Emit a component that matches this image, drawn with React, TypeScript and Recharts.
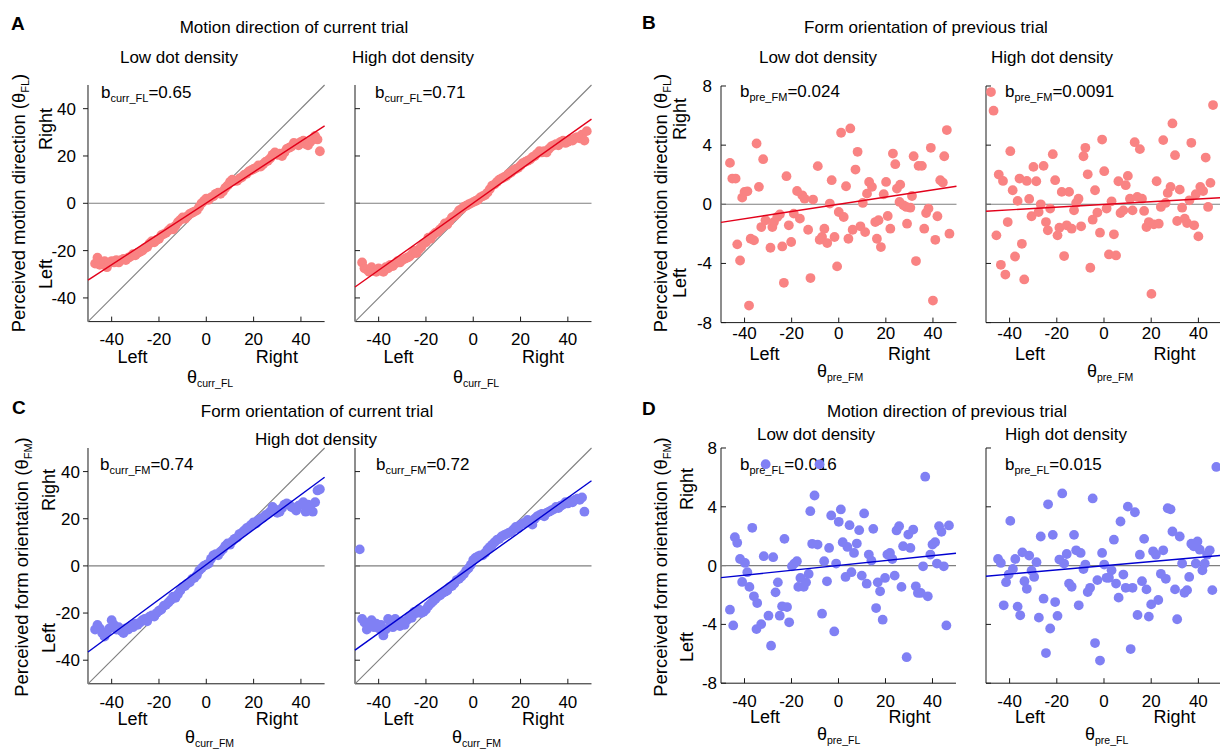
import React from 'react';
import { ScatterChart, Scatter, XAxis, YAxis } from 'recharts';

const FONT = '"Liberation Sans", Arial, Helvetica, sans-serif';
const RED_DOT = '#F98383';
const RED_LINE = '#E2001A';
const BLUE_DOT = '#8080F4';
const BLUE_LINE = '#0000D0';
const GRAY = '#7F7F7F';
const AXIS = '#1A1A1A';

// ---------- axes ----------
const xTicks = [-40, -20, 0, 20, 40];
const xRange = [-50, 50];
const bigTicks = [-40, -20, 0, 20, 40];
const bigRange = [-50, 50];
const smallTicks = [-8, -4, 0, 4, 8];
const smallRange = [-8, 8];

// ---------- current-trial bins ----------
const binsCurr = [-47, -46, -45, -44, -43, -42, -41, -40, -39, -38, -37, -36, -35, -34, -33, -32, -31, -30, -29, -28, -27, -26, -25, -24, -23, -22, -21, -20, -19, -18, -17, -16, -15, -14, -13, -12, -11, -10, -9, -8, -7, -6, -5, -4, -3, -2, -1, 0, 1, 2, 3, 4, 5, 6, 7, 8, 9, 10, 11, 12, 13, 14, 15, 16, 17, 18, 19, 20, 21, 22, 23, 24, 25, 26, 27, 28, 29, 30, 31, 32, 33, 34, 35, 36, 37, 38, 39, 40, 41, 42, 43, 44, 45, 46, 47, 48];
const binsCurrFMHigh = [-48, -47, -46, -45, -44, -43, -42, -41, -40, -39, -38, -37, -36, -35, -34, -33, -32, -31, -30, -29, -28, -27, -26, -25, -24, -23, -22, -21, -20, -19, -18, -17, -16, -15, -14, -13, -12, -11, -10, -9, -8, -7, -6, -5, -4, -3, -2, -1, 0, 1, 2, 3, 4, 5, 6, 7, 8, 9, 10, 11, 12, 13, 14, 15, 16, 17, 18, 19, 20, 21, 22, 23, 24, 25, 26, 27, 28, 29, 30, 31, 32, 33, 34, 35, 36, 37, 38, 39, 40, 41, 42, 43, 44, 45, 46, 47];

const currFLLow = [-25.5, -23, -26, -25, -24.5, -27, -25, -24.5, -25, -24, -25, -24, -23.5, -24, -23, -22.5, -21.5, -22, -21, -20.5, -20, -19, -18.5, -17, -16, -16.5, -15.5, -15, -13.5, -13, -12.5, -11.5, -10.5, -11, -9.5, -8, -7, -6, -6.5, -5.5, -4.5, -4, -3.5, -3, -1.5, 0, 1, 2, 1.5, 2.5, 3, 4, 4.5, 4, 5, 6.5, 7.5, 9, 10, 9.5, 9.5, 10.5, 11, 12, 12.5, 13.5, 14, 14.5, 15, 16, 15.5, 16.5, 17.5, 18, 19, 20.5, 21.5, 20.5, 21, 20, 21.5, 23, 23.5, 24, 25.5, 25, 24.5, 26, 26.5, 25, 24.5, 26, 27, 28.5, 27, 22];
const currFLHigh = [-25, -27.5, -28, -29, -27, -28.5, -29, -27.5, -28, -29, -27, -27.5, -26, -26.5, -25.5, -24.5, -25, -24, -23.5, -23, -22.5, -21.5, -20, -21, -19.5, -18.5, -17, -16.5, -14.5, -15, -13.5, -12.5, -12, -11, -10, -8.5, -9, -7.5, -6, -5.5, -4.5, -3, -2.5, -1.5, -1, -0.5, 0, 0.5, 1, 1.5, 2.5, 3, 3.5, 4.5, 6, 7.5, 8, 9, 10, 10.5, 11, 11.5, 12.5, 13, 14, 14.5, 15, 16, 17, 17.5, 18, 18.5, 19.5, 20, 21, 22, 21.5, 22, 21.5, 23, 24, 24.5, 25, 24.5, 26, 26.5, 25.5, 26, 27, 26.5, 27.5, 28, 27.5, 29, 26.5, 30.5];
const currFMLow = [-27, -25, -26.5, -28.5, -30, -28, -26.5, -23, -25, -27, -26, -27.5, -28.5, -26.5, -27, -25.5, -26, -24.5, -25, -24, -23, -22.5, -23.5, -21.5, -21, -21.5, -20, -19, -18.5, -17, -16.5, -15.5, -14.5, -13, -13.5, -12, -10.5, -9, -8.5, -7.5, -7, -5.5, -5, -4, -2, -1, 0, 0.5, 1, 3, 4.5, 5, 4.5, 6, 7, 8.5, 9.5, 9, 10.5, 11.5, 12, 13.5, 14, 15, 16, 16.5, 17.5, 18.5, 18, 19.5, 20, 20.5, 21.5, 22, 23, 25, 24, 22.5, 23, 24.5, 26, 26.5, 26, 25, 24.5, 23.5, 25.5, 26, 27, 23, 26, 25.5, 23, 27, 32, 32.5];
const currFMHigh = [7, -22.5, -24, -27, -25.5, -23, -26, -24.5, -26.5, -25, -29.5, -27, -22.5, -24, -26, -22.5, -24.5, -25.5, -23.5, -25, -23, -21.5, -22, -19.5, -20, -18.5, -20, -19.5, -18.5, -17, -16, -15, -14, -13, -12.5, -11.5, -11, -10.5, -9, -8.5, -7.5, -6, -5.5, -4.5, -3.5, -2, -1, 0.5, 2.5, 3.5, 4, 4.5, 4.5, 5.5, 7, 8, 9, 10, 11, 11.5, 12.5, 13, 13.5, 14, 14.5, 15.5, 16.5, 16, 17.5, 18, 18.5, 19.5, 19, 17.5, 20, 21, 21.5, 22, 21, 22.5, 23, 23.5, 24, 25, 24.5, 25.5, 26, 27, 26.5, 27.5, 27, 28, 28.5, 28, 29, 23];

// ---------- previous-trial points [x, y] ----------
const prevFMLow: number[][] = [
  [-46.2, 2.8], [-45.2, 1.74], [-43.8, 1.74], [-43.1, -2.71], [-41.9, -3.8], [-41, 0.45], [-40, 0.84], [-38.8, 0.88], [-38.1, -6.85], [-37.4, -2.33],
  [-36, -2.44], [-34.9, 4.11], [-33.9, 1.18], [-32.9, -1.54], [-32.1, 3.05], [-31.1, -1.08], [-29, -2.94], [-28.2, -1.54], [-27.5, -1.2], [-26.1, -0.86],
  [-25, -0.68], [-24, -2.85], [-23.3, -5.31], [-22.2, 1.9], [-21.2, -1.42], [-20.2, -2.55], [-19.1, -0.63], [-17.7, 0.9], [-16.5, -0.97], [-15.5, 0.61],
  [-14.5, 0.38], [-13, -1.72], [-12, -4.99], [-10.9, 0.32], [-8.9, 2.58], [-8.1, -2.4], [-7.1, -2.21], [-6.1, -1.65], [-4.9, -2.62], [-3.8, 0.05],
  [-3, 1.63], [-1.8, -2.21], [-0.7, -4.2], [0, -0.52], [1, 4.84], [2.1, -0.86], [3.1, 1.22], [4.1, -2.33], [4.9, 5.13], [5.9, -1.72],
  [7.1, 2.35], [8, 3.55], [9.2, -1.49], [10.2, 0.09], [11.2, -1.88], [12, 0.72], [12.9, 1.51], [14.1, 1.18], [15.5, -1.2], [16.2, -2.33],
  [16.9, -1.08], [17.9, -2.89], [19.1, 0.68], [20.1, 1.51], [20.8, -0.79], [21.9, -1.65], [23, 3.43], [24, 2.71], [24.7, 1.06], [26.1, 1.33],
  [25.8, 0.16], [27.5, -0.07], [28.7, -0.18], [29, -1.31], [30.4, -0.23], [31.1, 0.56], [31.8, 3.25], [32.8, -3.84], [33.9, 2.6], [35.3, 2.6],
  [36.3, -1.65], [37.1, -0.59], [38.1, -0.29], [39.1, 3.82], [40, -6.51], [41, -2.4], [41.9, -0.81], [43.1, 1.63], [44.2, 1.47], [44.8, 3.25],
  [45.9, 5.02], [47, -1.99],
];
const prevFMHigh: number[][] = [
  [-47.9, 7.59], [-46.8, 6.33], [-45.6, -2.1], [-44.6, 2.01], [-43.7, -4.09], [-42.8, 1.58], [-41.8, -4.75], [-40.8, -1.2], [-39.7, 3.59], [-38.7, 0.95],
  [-37.7, -3.53], [-36.6, 0.23], [-35.8, 1.74], [-34.8, -2.67], [-33.8, -5.08], [-32.7, 1.58], [-31.7, 0.36], [-30.7, -0.81], [-29.9, 2.53], [-28.7, 1.56],
  [-27.7, -0.52], [-26.8, 0], [-25.6, 2.6], [-24.6, -1.2], [-23.8, -1.76], [-22.8, -0.29], [-21.7, 3.39], [-20.7, 1.63], [-19.7, -2.1], [-18.9, -1.58],
  [-17.9, 0.84], [-16.9, -3.5], [-15.8, -1.42], [-14.8, 0.84], [-13.7, -1.65], [-12.7, -0.41], [-11.8, 0.09], [-10.8, 0.38], [-9.7, -1.49], [-8.7, 3.25],
  [-7.9, 3.82], [-6.9, 2.03], [-5.8, -4.29], [-4.8, -1.04], [-3.8, 0.95], [-2.8, -0.56], [-1.7, -1.92], [-0.8, 4.38], [0.1, 2.24], [1.1, -0.29],
  [2.1, -3.39], [3.2, 0.2], [4.2, -2.03], [5.1, -3.46], [6.1, 1.56], [7, -0.59], [8.2, -0.41], [9.2, 1.29], [10.1, 1.92], [11, 0.38],
  [12.1, -0.41], [13, 4.2], [14.1, 0.5], [15.2, 3.73], [16.1, 0.38], [17, -0.45], [18, -1.54], [19, -1.2], [20.1, -6.06], [21.1, -1.36],
  [22.3, 1.56], [23.2, -1.31], [24.1, -0.18], [25.1, 4.34], [26.1, 0.09], [27, 0.77], [28.2, 1.18], [29, 5.47], [30.1, 3.32], [31, -1.13],
  [32.1, 0.99], [33.1, -0.23], [34.2, -0.97], [35.2, -1.27], [36.2, 0.27], [37, 4.16], [38.2, -1.42], [38.9, 0.68], [40, -2.17], [40.8, 1.18],
  [42, 0.9], [43.1, 3.16], [44.1, -0.18], [45.1, 1.45], [46.2, 6.71],
];
const prevFLLow: number[][] = [
  [-46.2, -3.0], [-44.8, -4.07], [-44.1, 1.93], [-43.1, 1.55], [-41.9, 0.45], [-41, -1.11], [-39.8, 0.18], [-38.8, -0.45], [-37.9, -1.45], [-36.7, 2.57],
  [-36, -2.09], [-34.6, -2.55], [-34.9, -4.32], [-32.9, -3.98], [-31.8, 0.64], [-31, 6.9], [-29.8, -3.41], [-28.7, -5.45], [-27.8, 0.57], [-26.8, -1.82],
  [-25.8, -1.14], [-25, -3.41], [-24, -2.77], [-23, 1.82], [-21.9, -2.82], [-21, -3.86], [-19.8, -0.05], [-18.8, 0.14], [-17.7, 0.3], [-17.1, -1.45],
  [-16.2, -0.84], [-14.8, -1.45], [-13.8, -1.14], [-12.7, -0.57], [-12, 3.7], [-11.2, 1.48], [-10.2, 4.77], [-8.9, 1.43], [-8.1, 6.89], [-7, -3.27],
  [-6.1, 0.3], [-4.9, -1.07], [-4, 1.2], [-3.1, 3.41], [-1.8, -4.48], [-1, 0.14], [0.1, 2.98], [1, 3.82], [1.8, 1.59], [3, -0.77],
  [3.8, 1.27], [4.7, 2.75], [5.5, -0.45], [6.6, 0.86], [7.8, 1.5], [8.8, 2.41], [9.9, -0.68], [10.9, 3.55], [12, -1.23], [12.9, 0.75],
  [14, 0.34], [14.8, 2.5], [16, -2.89], [16.7, -1.14], [17.7, -1.75], [18.8, -3.68], [19.8, -0.84], [20.8, 0.75], [21.9, 0.86], [22.9, 0.45],
  [23.9, -0.68], [24.7, 2.39], [25.8, 2.68], [26.8, -1.45], [27.5, 1.32], [29, -6.23], [29.7, 2.11], [30.6, 1.2], [31.8, 2.45], [32.9, -1.41],
  [33.8, -1.86], [35, -1.86], [36, -0.05], [36.9, 6.05], [38, -2.09], [39.1, 0.75], [40, 1.43], [41.1, 1.59], [41.9, 0.14], [42.8, 2.68],
  [43.8, 2.3], [44.8, -0.05], [45.9, -4.07], [47, 2.73],
];
const prevFLHigh: number[][] = [
  [-44.9, 0.45], [-43.7, 0.18], [-42.5, -2.7], [-41.5, -1.13], [-40.4, -0.61], [-39.7, 3.04], [-38.6, -0.23], [-37.6, 0.45], [-36.6, -2.79], [-35.5, -3.38],
  [-34.6, 0.9], [-33.7, -1.06], [-32.7, -1.58], [-31.7, 0.68], [-30.7, -0.34], [-29.6, -0.77], [-28.6, 0.23], [-27.6, -3.54], [-26.8, 1.98], [-25.6, -2.25],
  [-24.6, -5.95], [-23.7, 4.17], [-22.8, -4.28], [-21.7, 2.09], [-20.7, -2.48], [-19.7, -3.42], [-18.9, 0.41], [-17.7, 4.91], [-16.9, 0.14], [-15.8, 0.79],
  [-14.8, -1.22], [-13.7, -1.44], [-12.7, 2.09], [-11.8, 1.04], [-10.7, -2.7], [-9.9, 0.86], [-8.7, -0.23], [-7.9, 0.07], [-6.9, -1.8], [-5.9, -1.51],
  [-4.8, 4.57], [-3.8, -5.27], [-2.8, -0.99], [-1.7, -6.46], [-0.8, 0.86], [0.1, 0.07], [1.1, -0.83], [2.1, -0.83], [3.2, -0.32], [4.2, 1.76],
  [5.1, -1.22], [6.2, -2.18], [7, 3.0], [8.2, -0.61], [9.2, -1.51], [10.1, 4.01], [11.3, -5.68], [12.1, -1.51], [13.1, 3.63], [14.2, -3.36],
  [15.2, 0.74], [16.1, -1.06], [17, 1.82], [18, -1.62], [19, -3.47], [20, -2.64], [20.8, 0.97], [22, 0.74], [23, -2.34], [24.1, -0.56],
  [25.1, 1.04], [26.2, -0.9], [27, 3.9], [28.2, 3.83], [29, 2.32], [30.1, -1.62], [31, -3.65], [32.1, 1.98], [33.1, 0.14], [34.1, -1.85],
  [35.2, -1.67], [36.1, -0.77], [37, 1.49], [38, 1.31], [38.9, 0.14], [39.6, 1.64], [40.6, 1.08], [41.7, -0.32], [42.7, 0.14], [43.7, 0.74],
  [44.8, 1.04], [45.9, -1.67], [47.6, 6.71],
];

// ---------- regression fits: value at x = -50 and x = 50 ----------
const fitCurrFLLow = [-32.5, 32.7];
const fitCurrFLHigh = [-35.4, 35.6];
const fitCurrFMLow = [-36.5, 37.6];
const fitCurrFMHigh = [-35.7, 36.1];
const fitPrevFMLow = [-1.22, 1.22];
const fitPrevFMHigh = [-0.47, 0.45];
const fitPrevFLLow = [-0.82, 0.84];
const fitPrevFLHigh = [-0.72, 0.7];

// ---------- coefficient labels ----------
const coefCurrFL = ['0.65', '0.71'];
const coefPrevFM = ['0.024', '0.0091'];
const coefCurrFM = ['0.74', '0.72'];
const coefPrevFL = ['0.016', '0.015'];

const zipBins = (xs: number[], ys: number[]) => xs.map((x, i) => ({ x, y: ys[i] }));
const zipPairs = (pairs: number[][]) => pairs.map((p) => ({ x: p[0], y: p[1] }));

const YW = 60;
const MR = 12;
const MT = 12;
const XH = 40;

const tickStyle = { fill: '#000', fontSize: 17, fontFamily: FONT };

const noDot = () => <g />;
const makeDot = (color: string) => (p: any) => <circle cx={p.cx} cy={p.cy} r={4.9} fill={color} />;

type PanelProps = {
  L: number; T: number; W: number; H: number;
  pts: { x: number; y: number }[];
  dotColor: string; lineColor: string; fit: number[];
  yRange: number[]; yTicks: number[]; diag: boolean; labels: boolean;
  yTickSize: number; yTickMargin: number; xTickMargin: number;
};

function Panel(p: PanelProps) {
  const zero = [{ x: xRange[0], y: 0 }, { x: xRange[1], y: 0 }];
  const diag = [{ x: p.yRange[0], y: p.yRange[0] }, { x: p.yRange[1], y: p.yRange[1] }];
  const fit = [{ x: xRange[0], y: p.fit[0] }, { x: xRange[1], y: p.fit[1] }];
  return (
    <div style={{ position: 'absolute', left: p.L - YW, top: p.T - MT }}>
      <ScatterChart width={YW + p.W + MR} height={MT + p.H + XH} margin={{ top: MT, right: MR, bottom: 0, left: 0 }}>
        <XAxis type="number" dataKey="x" domain={xRange} ticks={xTicks} interval={0} height={XH}
          tickSize={-5} tickMargin={p.xTickMargin} stroke={AXIS} tick={tickStyle} />
        <YAxis type="number" dataKey="y" domain={p.yRange} ticks={p.yTicks} interval={0} width={YW}
          tickSize={p.yTickSize} tickMargin={p.yTickMargin} stroke={AXIS} tick={tickStyle}
          tickFormatter={p.labels ? (v: number) => String(v) : () => ''} />
        <Scatter data={zero} line={{ stroke: GRAY, strokeWidth: 1.1 }} shape={noDot} isAnimationActive={false} />
        {p.diag && <Scatter data={diag} line={{ stroke: GRAY, strokeWidth: 1.1 }} shape={noDot} isAnimationActive={false} />}
        <Scatter data={p.pts} shape={makeDot(p.dotColor)} isAnimationActive={false} />
        <Scatter data={fit} line={{ stroke: p.lineColor, strokeWidth: 1.4 }} shape={noDot} isAnimationActive={false} />
      </ScatterChart>
    </div>
  );
}

const Coef = ({ x, y, sub, val }: any) => (
  <text x={x} y={y} fontSize={17}>b<tspan fontSize={11} dy={4}>{sub}</tspan><tspan dy={-4}>={val}</tspan></text>
);
const Theta = ({ x, y, sub }: any) => (
  <text x={x} y={y} fontSize={18}>θ<tspan fontSize={10.5} dy={4}>{sub}</tspan></text>
);
const YLab = ({ x, y, text, sub }: any) => (
  <text transform={`translate(${x},${y}) rotate(-90)`} textAnchor="middle" fontSize={18.5}>
    {text} (θ<tspan fontSize={11} dy={4}>{sub}</tspan><tspan dy={-4}>)</tspan>
  </text>
);
const Rot = ({ x, y, children }: any) => (
  <text transform={`translate(${x},${y}) rotate(-90)`} textAnchor="middle" fontSize={18}>{children}</text>
);
const LR = ({ L, y }: any) => (
  <g fontSize={18}>
    <text x={L + 29} y={y}>Left</text>
    <text x={L + 209.5} y={y} textAnchor="end">Right</text>
  </g>
);

function Overlay() {
  return (
    <svg width={1220} height={752} style={{ position: 'absolute', left: 0, top: 0 }} fontFamily={FONT} fill="#000">
      <g fontSize={19} fontWeight={700}>
        <text x={11} y={30}>A</text>
        <text x={642} y={29}>B</text>
        <text x={12} y={414}>C</text>
        <text x={642} y={415}>D</text>
      </g>
      <g fontSize={17} textAnchor="middle">
        <text x={294} y={33}>Motion direction of current trial</text>
        <text x={179} y={63}>Low dot density</text>
        <text x={413} y={63}>High dot density</text>
        <text x={926} y={33}>Form orientation of previous trial</text>
        <text x={818} y={63}>Low dot density</text>
        <text x={1052} y={63}>High dot density</text>
        <text x={317} y={417}>Form orientation of current trial</text>
        <text x={316} y={445}>High dot density</text>
        <text x={947} y={417}>Motion direction of previous trial</text>
        <text x={816} y={440}>Low dot density</text>
        <text x={1066} y={440}>High dot density</text>
      </g>
      <Coef x={101} y={98} sub="curr_FL" val={coefCurrFL[0]} />
      <Coef x={375} y={98} sub="curr_FL" val={coefCurrFL[1]} />
      <Coef x={740} y={97} sub="pre_FM" val={coefPrevFM[0]} />
      <Coef x={1005} y={97} sub="pre_FM" val={coefPrevFM[1]} />
      <Coef x={100} y={470} sub="curr_FM" val={coefCurrFM[0]} />
      <Coef x={376} y={470} sub="curr_FM" val={coefCurrFM[1]} />
      <Coef x={740} y={470} sub="pre_FL" val={coefPrevFL[0]} />
      <Coef x={1005} y={470} sub="pre_FL" val={coefPrevFL[1]} />

      <LR L={88.4} y={363} />
      <LR L={354.5} y={363} />
      <LR L={720.5} y={360} />
      <LR L={986} y={360} />
      <LR L={88.4} y={725} />
      <LR L={354.5} y={725} />
      <LR L={721} y={723} />
      <LR L={986} y={723} />

      <Theta x={187} y={383} sub="curr_FL" />
      <Theta x={453} y={383} sub="curr_FL" />
      <Theta x={817} y={377} sub="pre_FM" />
      <Theta x={1087} y={377} sub="pre_FM" />
      <Theta x={185} y={743} sub="curr_FM" />
      <Theta x={452} y={743} sub="curr_FM" />
      <Theta x={817} y={740} sub="pre_FL" />
      <Theta x={1085} y={740} sub="pre_FL" />

      <YLab x={25} y={203} text="Perceived motion direction" sub="FL" />
      <YLab x={667} y={203} text="Perceived motion direction" sub="FL" />
      <YLab x={28} y={567} text="Perceived form orientation" sub="FM" />
      <YLab x={667} y={567} text="Perceived form orientation" sub="FM" />

      <Rot x={52} y={129}>Right</Rot>
      <Rot x={52} y={274}>Left</Rot>
      <Rot x={686} y={119}>Right</Rot>
      <Rot x={686} y={283}>Left</Rot>
      <Rot x={55} y={490}>Right</Rot>
      <Rot x={55} y={638}>Left</Rot>
      <Rot x={693} y={489}>Right</Rot>
      <Rot x={693} y={647}>Left</Rot>
    </svg>
  );
}

export default function App() {
  return (
    <div style={{ position: 'absolute', left: 0, top: 0, width: 1220, height: 752, overflow: 'hidden', background: '#fff', fontFamily: FONT }}>
      <Overlay />
      <Panel L={88.4} T={85} W={236.6} H={236.6} pts={zipBins(binsCurr, currFLLow)} dotColor={RED_DOT} lineColor={RED_LINE}
        fit={fitCurrFLLow} yRange={bigRange} yTicks={bigTicks} diag labels yTickSize={5} yTickMargin={7} xTickMargin={16} />
      <Panel L={354.5} T={85} W={236.5} H={236.6} pts={zipBins(binsCurr, currFLHigh)} dotColor={RED_DOT} lineColor={RED_LINE}
        fit={fitCurrFLHigh} yRange={bigRange} yTicks={bigTicks} diag labels={false} yTickSize={-5} yTickMargin={4} xTickMargin={16} />
      <Panel L={720.5} T={85.7} W={235.5} H={236.6} pts={zipPairs(prevFMLow)} dotColor={RED_DOT} lineColor={RED_LINE}
        fit={fitPrevFMLow} yRange={smallRange} yTicks={smallTicks} diag={false} labels yTickSize={-5} yTickMargin={14} xTickMargin={9} />
      <Panel L={986} T={85.7} W={236} H={236.6} pts={zipPairs(prevFMHigh)} dotColor={RED_DOT} lineColor={RED_LINE}
        fit={fitPrevFMHigh} yRange={smallRange} yTicks={smallTicks} diag={false} labels={false} yTickSize={-5} yTickMargin={4} xTickMargin={9} />
      <Panel L={88.4} T={447.7} W={236.6} H={235.8} pts={zipBins(binsCurr, currFMLow)} dotColor={BLUE_DOT} lineColor={BLUE_LINE}
        fit={fitCurrFMLow} yRange={bigRange} yTicks={bigTicks} diag labels yTickSize={5} yTickMargin={3} xTickMargin={17} />
      <Panel L={354.5} T={447.7} W={236.5} H={235.8} pts={zipBins(binsCurrFMHigh, currFMHigh)} dotColor={BLUE_DOT} lineColor={BLUE_LINE}
        fit={fitCurrFMHigh} yRange={bigRange} yTicks={bigTicks} diag labels={false} yTickSize={-5} yTickMargin={4} xTickMargin={17} />
      <Panel L={721} T={448.3} W={235} H={235.2} pts={zipPairs(prevFLLow)} dotColor={BLUE_DOT} lineColor={BLUE_LINE}
        fit={fitPrevFLLow} yRange={smallRange} yTicks={smallTicks} diag={false} labels yTickSize={-5} yTickMargin={9} xTickMargin={17} />
      <Panel L={986} T={448.3} W={236} H={235.2} pts={zipPairs(prevFLHigh)} dotColor={BLUE_DOT} lineColor={BLUE_LINE}
        fit={fitPrevFLHigh} yRange={smallRange} yTicks={smallTicks} diag={false} labels={false} yTickSize={-5} yTickMargin={4} xTickMargin={17} />
    </div>
  );
}
